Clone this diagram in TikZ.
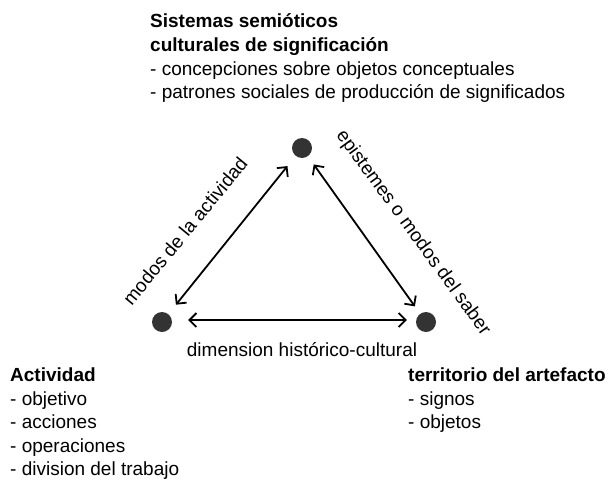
\documentclass[tikz,border=0pt]{standalone}
\usepackage{fontspec}
\setmainfont{Liberation Sans}
\usetikzlibrary{arrows.meta}
\begin{document}
\begin{tikzpicture}[x=1pt,y=-1pt,
  txt/.style={inner sep=0pt,anchor=base west,font=\fontsize{19}{23.5}\selectfont},
  btxt/.style={txt,font=\fontsize{19}{23.5}\selectfont\bfseries},
  dot/.style={circle,fill=black!80,minimum size=20pt,inner sep=0pt},
  conn/.style={line width=1.8pt,{Straight Barb[length=7pt,width=14pt]}-{Straight Barb[length=7pt,width=14pt]}},
  elabel/.style={inner sep=0pt,font=\fontsize{19}{23.5}\selectfont}]
\useasboundingbox (0,0) rectangle (608,482);
% dots
\node[dot] (top) at (302,148) {};
\node[dot] (left) at (162,322) {};
\node[dot] (right) at (426,322) {};
% connectors
\draw[conn,shorten <=12pt,shorten >=13pt] (left) -- (top);
\draw[conn,shorten <=10pt,shorten >=9pt] (top) -- (right);
\draw[conn,shorten <=16pt,shorten >=9pt] ([yshift=2pt]left.east) -- ([yshift=2pt]right.west);
% edge labels
\node[elabel,rotate=50.5] (lm) at (185,231) {modos de la actividad};
\node[elabel,rotate=-53.9] (lr) at (413,233) {epistemes o modos del saber};
\node[elabel] (lb) at (302,350) {dimension histórico-cultural};
% top block
\node[btxt] (t1) at (150,27) {Sistemas semióticos};
\node[btxt] (t2) at (150,51) {culturales de significación};
\node[txt] (t3) at (150,75) {- concepciones sobre objetos conceptuales};
\node[txt] (t4) at (150,98) {- patrones sociales de producción de significados};
% left block
\node[btxt] (a1) at (10,381) {Actividad};
\node[txt] (a2) at (10,405) {- objetivo};
\node[txt] (a3) at (10,428) {- acciones};
\node[txt] (a4) at (10,452) {- operaciones};
\node[txt] (a5) at (10,475) {- division del trabajo};
% right block
\node[btxt] (r1) at (408,381) {territorio del artefacto};
\node[txt] (r2) at (408,405) {- signos};
\node[txt] (r3) at (408,428) {- objetos};
\end{tikzpicture}
\end{document}
